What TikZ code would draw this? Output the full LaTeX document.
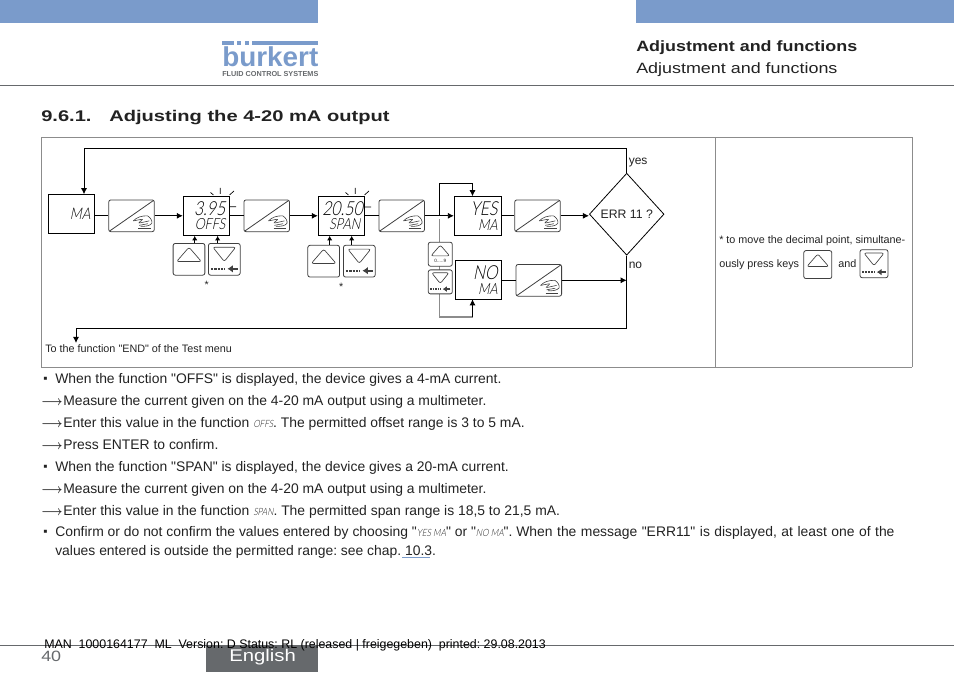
\documentclass[tikz,border=0pt]{standalone}
\usepackage{amsmath, amssymb}
\usepackage{graphicx}
\usepackage{fontspec}
\setmainfont[Ligatures=TeXOff]{Liberation Sans}
\newfontfamily\widefont[FakeStretch=1.2,Ligatures=TeXOff]{Liberation Sans}
\newfontfamily\headfont[FakeStretch=1.3,Ligatures=TeXOff]{Liberation Sans}
\newfontfamily\lcdfont[UprightFont=* Light,FakeSlant=0.2,FakeStretch=0.82]{Lato}
\usetikzlibrary{shapes.geometric}
\usetikzlibrary{arrows.meta,arrows}
\definecolor{barblue}{HTML}{7A9BCB}
\definecolor{framegray}{HTML}{8C8C8C}
\definecolor{rulegray}{HTML}{66696C}
\definecolor{inkgray}{HTML}{222222}
\frenchspacing
\newcommand{\stepmark}{\makebox[16.5pt][l]{\scalebox{0.86}[1]{\boldmath$\longrightarrow$}}}
\newcommand{\inlinelcd}[1]{{\lcdfont\fontsize{7.5}{8}\selectfont #1}}
\newcommand{\bigseg}{\fontsize{14.5}{13}\selectfont}
\newcommand{\smallseg}{\fontsize{11.5}{11}\selectfont}
\tikzset{
    lcdbox/.style={draw, line width=0.7pt, fill=white, minimum height=29.25pt, text width=#1, align=right, inner xsep=3pt, inner ysep=0pt, font=\lcdfont},
    enterkey/.style={draw=black!75, line width=0.6pt, fill=white, rounded corners=1.6pt, minimum width=34.2pt, minimum height=23.8pt, inner sep=0pt,
        path picture={
            \begin{scope}[shift={(path picture bounding box.center)}, x=34.2pt, y=23.8pt, line width=0.45pt]
                \draw[line width=0.6pt] (-0.5,-0.5) -- (0.5,0.5);
                \draw (0.04,-0.16) .. controls (0.12,-0.04) and (0.22,0) .. (0.35,0);
                \draw (0.04,-0.16) -- (0.26,-0.1) -- (0.14,-0.24) -- (0.39,-0.16);
                \draw (0.35,0) .. controls (0.42,-0.06) and (0.46,-0.16) .. (0.445,-0.24);
                \draw (0.17,-0.3) -- (0.36,-0.25);
                \draw (0.445,-0.24) .. controls (0.4,-0.32) and (0.3,-0.34) .. (0.2,-0.33);
                \draw (0.15,-0.4) -- (0.42,-0.4);
            \end{scope}
        }},
    upkey/.style={draw=black!75, line width=0.6pt, fill=white, rounded corners=1.6pt, minimum width=#1, minimum height=#1, inner sep=0pt,
        path picture={
            \begin{scope}[shift={(path picture bounding box.center)}, x=#1, y=#1, line width=0.5pt]
                \draw (-0.39,-0.07) -- (0.39,-0.07) -- (0,0.38) -- cycle;
            \end{scope}
        }},
    downkey/.style={draw=black!75, line width=0.6pt, fill=white, rounded corners=1.6pt, minimum width=#1, minimum height=#1, inner sep=0pt,
        path picture={
            \begin{scope}[shift={(path picture bounding box.center)}, x=#1, y=#1, line width=0.5pt]
                \draw (-0.36,0.38) -- (0.36,0.38) -- (0,-0.07) -- cycle;
                \draw[line width=1.3pt, dash pattern=on 0.07*#1 off 0.035*#1] (-0.42,-0.3) -- (0.02,-0.3);
                \draw[-{Latex[length=0.17*#1, width=0.24*#1]}, line width=1.3pt] (0.42,-0.3) -- (0.1,-0.3);
            \end{scope}
        }},
    mainline/.style={line width=0.7pt},
    keyline/.style={line width=0.7pt, ->, >={Latex[length=1.2mm, width=1.4mm]}},
    rayline/.style={line width=0.5pt},
    bodytext/.style={anchor=base west, inner sep=0pt, font=\fontsize{10.42}{11}\selectfont, text=inkgray},
    smalltext/.style={anchor=base west, inner sep=0pt, font=\fontsize{8.1}{9}\selectfont, text=inkgray},
    bullettext/.style={anchor=base west, inner sep=0pt, font=\fontsize{9}{9}\selectfont, text=inkgray}
}

\begin{document}
\begin{tikzpicture}[x=0.75pt, y=-0.75pt, >={Latex[length=1.6mm, width=1.6mm]}]
        \useasboundingbox (0,0) rectangle (954,673);

        % Page head
        \fill[barblue] (0,0) rectangle (318,23);
        \fill[barblue] (636,0) rectangle (954,23);
        \fill[barblue] (222,41) rectangle (234,45);
        \fill[barblue] (237,41) rectangle (241,45);
        \fill[barblue] (245,41) rectangle (249,45);
        \fill[barblue] (252,41) rectangle (318,45);
        \node at (222,67) [anchor=base west, inner sep=0pt, text=barblue, font=\bfseries\fontsize{20.5}{21}\selectfont] (logo) {\scalebox{1.02}[1]{burkert}};
        \node at (222,76.5) [anchor=base west, inner sep=0pt, text=rulegray, font=\bfseries\fontsize{5.45}{6}\selectfont] (logosub) {FLUID CONTROL SYSTEMS};
        \node at (636,52) [anchor=base west, inner sep=0pt, text=inkgray, font=\widefont\bfseries\fontsize{11.2}{12}\selectfont] (chapter) {Adjustment and functions};
        \node at (636,74) [anchor=base west, inner sep=0pt, text=inkgray, font=\widefont\fontsize{11.2}{12}\selectfont] (section) {Adjustment and functions};
        \draw[rulegray, line width=0.75pt] (0,86) -- (954,86);

        % Heading
        \node at (41,122) [anchor=base west, inner sep=0pt, text=inkgray, font=\headfont\bfseries\fontsize{11.6}{12}\selectfont] (headnum) {9.6.1.};
        \node at (109,122) [anchor=base west, inner sep=0pt, text=inkgray, font=\headfont\bfseries\fontsize{11.6}{12}\selectfont] (headtext) {Adjusting the 4-20 mA output};

        % Frame
        \draw[framegray, line width=0.75pt] (41,367.5) -- (41,138) -- (912,138) -- (912,367.5);
        \draw[framegray, line width=0.75pt] (715,138) -- (715,367.5);
        \draw[framegray, line width=1.3pt] (41,367.5) -- (912,367.5);

        % Displays
        \node at (71.5,213.8) [lcdbox=28.5pt] (ma) {\fontsize{12}{12}\selectfont MA\hspace{4.5pt}};
        \node at (206.3,215.8) [lcdbox=28.5pt] (offs) {\bigseg 3.95\\[-1pt]\smallseg OFFS};
        \node at (341.3,215.8) [lcdbox=28.5pt] (span) {\bigseg 20.50\\[-1pt]\smallseg SPAN};
        \node at (478,215.8) [lcdbox=29.5pt] (yes) {\bigseg YES\\[-1pt]\smallseg MA};
        \node at (478.5,280.3) [lcdbox=28.8pt] (no) {\bigseg NO\\[-1pt]\smallseg MA};

        % Enter keys
        \node at (131.5,215.8) [enterkey] (enterA) {};
        \node at (266.7,215.8) [enterkey] (enterB) {};
        \node at (401.7,215.8) [enterkey] (enterC) {};
        \node at (537.5,215.8) [enterkey] (enterD) {};
        \node at (538.8,280.3) [enterkey] (enterE) {};

        % Decision
        \node at (626.7,214.2) [draw, diamond, aspect=0.91, line width=0.6pt, inner sep=0pt, minimum width=56pt, minimum height=61.5pt, font=\fontsize{9.2}{10}\selectfont, text=inkgray] (err) {ERR 11 ?};

        % Corner points of the lines
        \coordinate (topRight) at (626.7,148.3);
        \coordinate (topLeft) at (84,148.3);
        \coordinate (maIn) at (84,194.3);
        \coordinate (split) at (439.3,215.8);
        \coordinate (splitTop) at (439.3,183.3);
        \coordinate (yesTop) at (472.5,183.3);
        \coordinate (yesIn) at (472.5,196.3);
        \coordinate (splitLow) at (439.3,219.5);
        \coordinate (lowLeft) at (439.3,317);
        \coordinate (lowRight) at (472.5,317);
        \coordinate (noIn) at (472.5,299.3);
        \coordinate (rightNo) at (626.7,280.3);
        \coordinate (botRight) at (626.7,328.3);
        \coordinate (botLeft) at (76,328.3);
        \coordinate (endPoint) at (76,343);

        % Gray side line, under the small keys
        \draw[framegray, line width=1pt] (splitLow) -- (lowLeft) -- (lowRight);

        % Small keys
        \node at (440.3,254.2) [upkey=18pt] (smallUp) {};
        \node at (440.3,281.9) [downkey=18pt] (smallDown) {};
        \node at (440.3,261.2) [inner sep=0pt, text=inkgray, font=\fontsize{3.5}{4}\selectfont] (range) {0.....9};

        % Keys under the displays
        \node at (189,259.3) [upkey=23.8pt] (offsUp) {};
        \node at (224.3,259.3) [downkey=23.8pt] (offsDown) {};
        \node at (323.7,261.2) [upkey=23.8pt] (spanUp) {};
        \node at (359.3,261.2) [downkey=23.8pt] (spanDown) {};
        \node at (206.7,285) [inner sep=0pt, text=inkgray, font=\fontsize{8}{9}\selectfont] (offsStar) {*};
        \node at (341.3,287) [inner sep=0pt, text=inkgray, font=\fontsize{8}{9}\selectfont] (spanStar) {*};

        % Main flow
        \draw[mainline,->] (err.north) -- (topRight) -- (topLeft) -- (maIn);
        \draw[mainline] (ma.east |- enterA.west) -- (enterA.west);
        \draw[mainline,->] (enterA.east) -- (offs.west);
        \draw[mainline] (offs.east) -- (enterB.west);
        \draw[mainline,->] (enterB.east) -- (span.west);
        \draw[mainline] (span.east) -- (enterC.west);
        \draw[mainline,->] (enterC.east) -- (yes.west);
        \draw[mainline,->] (split) -- (splitTop) -- (yesTop) -- (yesIn);
        \draw[mainline] (yes.east) -- (enterD.west);
        \draw[mainline,->] (enterD.east) -- (enterD.east -| err.west);
        \draw[mainline,->] (lowRight) -- (noIn);
        \draw[mainline] (no.east) -- (enterE.west);
        \draw[mainline,->] (enterE.east) -- (rightNo);
        \draw[mainline] (err.south) -- (botRight);
        \draw[mainline,->] (botRight) -- (botLeft) -- (endPoint);

        % Key arrows
        \draw[keyline] ([xshift=4.3pt]offsUp.north) -- ([xshift=4.3pt]offsUp.north |- offs.south);
        \draw[keyline] ([xshift=-5pt]offsDown.north) -- ([xshift=-5pt]offsDown.north |- offs.south);
        \draw[keyline] ([xshift=4.5pt]spanUp.north) -- ([xshift=4.5pt]spanUp.north |- span.south);
        \draw[keyline] ([xshift=-5.7pt]spanDown.north) -- ([xshift=-5.7pt]spanDown.north |- span.south);

        % Blink rays
        \draw[rayline] (220.3,188) -- (220.3,194) (210.5,192.5) -- (213.5,195) (234,191) -- (229.5,195) (229.3,206.7) -- (236,206.7);
        \draw[rayline] (355.3,188) -- (355.3,194) (345.5,192.5) -- (348.5,195) (369,191) -- (364.5,195) (364.3,207) -- (371,207);

        % Labels
        \node at (628.5,165) [smalltext, font=\fontsize{9}{9}\selectfont] (yesLabel) {yes};
        \node at (628.5,269) [smalltext, font=\fontsize{9}{9}\selectfont] (noLabel) {no};
        \node at (45,352.5) [smalltext] (endLabel) {To the function "END" of the Test menu};

        % Footnote
        \node at (719,244) [smalltext] (noteA) {* to move the decimal point, simultane-};
        \node at (719,268) [smalltext] (noteB) {ously press keys};
        \node at (838,268) [smalltext] (noteC) {and};
        \node at (817.8,264.6) [upkey=21pt] (noteUp) {};
        \node at (874,263.7) [downkey=21pt] (noteDown) {};

        % Body text
        \node at (43,383) [bullettext] (bulA) {▪};
        \node at (55,384) [bodytext] (lineA) {When the function "OFFS" is displayed, the device gives a 4-mA current.};
        \node at (41,406) [bodytext] (lineB) {\stepmark Measure the current given on the 4-20 mA output using a multimeter.};
        \node at (41,428) [bodytext] (lineC) {\stepmark Enter this value in the function \inlinelcd{OFFS}. The permitted offset range is 3 to 5 mA.};
        \node at (41,450) [bodytext] (lineD) {\stepmark Press ENTER to confirm.};
        \node at (43,471) [bullettext] (bulB) {▪};
        \node at (55,472) [bodytext] (lineE) {When the function "SPAN" is displayed, the device gives a 20-mA current.};
        \node at (41,494) [bodytext] (lineF) {\stepmark Measure the current given on the 4-20 mA output using a multimeter.};
        \node at (41,516) [bodytext] (lineG) {\stepmark Enter this value in the function \inlinelcd{SPAN}. The permitted span range is 18,5 to 21,5 mA.};
        \node at (43,536) [bullettext] (bulC) {▪};
        \node at (55,537) [bodytext] (lineH) {Confirm or do not confirm the values entered by choosing "\inlinelcd{YES MA}" or "\inlinelcd{NO MA}". {\spaceskip=3.37pt When the message "ERR11" is displayed, at least one of the}};
        \node at (55,556) [bodytext] (lineI) {values entered is outside the permitted range: see chap. 10.3.};
        \draw[barblue, line width=0.9pt] (402,557.5) -- (430,557.5);

        % Page foot
        \draw[rulegray, line width=0.75pt] (0,645) -- (954,645);
        \fill[rulegray] (206,646) rectangle (318,672);
        \node at (44,648) [anchor=base west, inner sep=0pt, text=black, font=\fontsize{9.3}{10}\selectfont] (status) {MAN\ \ 1000164177\ \ ML\ \ Version: D Status: RL (released | freigegeben)\ \ printed: 29.08.2013};
        \node at (41,662) [anchor=base west, inner sep=0pt, text=rulegray, font=\widefont\fontsize{11.2}{12}\selectfont] (pagenum) {40};
        \node at (229,662) [anchor=base west, inner sep=0pt, text=white, font=\widefont\fontsize{12.7}{13}\selectfont] (language) {English};

\end{tikzpicture}
\end{document}
